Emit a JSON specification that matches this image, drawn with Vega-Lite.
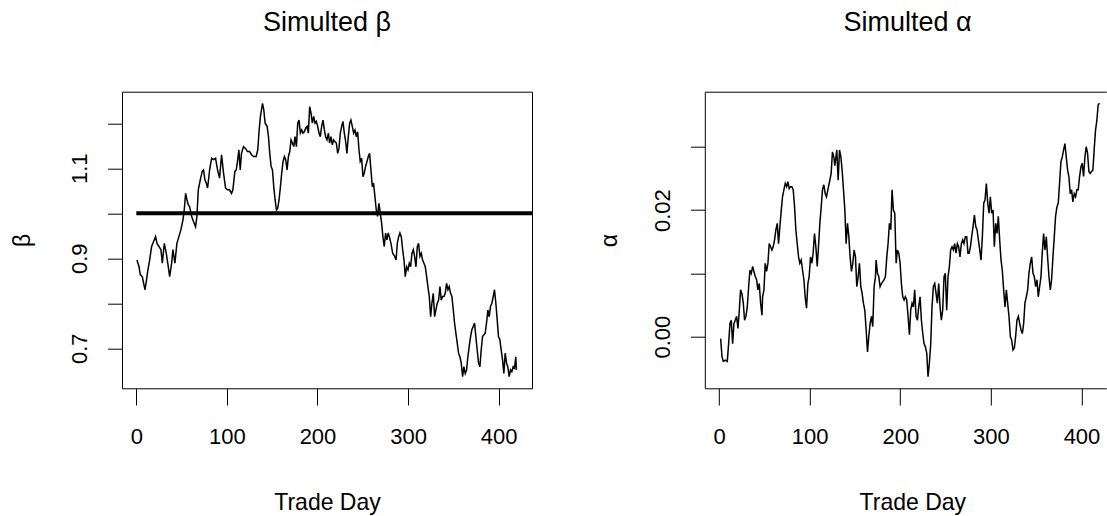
{
"$schema": "https://vega.github.io/schema/vega-lite/v6.json",
"padding": {"left": 10, "top": 8.7, "right": 0, "bottom": 0},
"background": "white",
"spacing": 172.8,
"bounds": "flush",
"config": {
 "font": "Liberation Sans",
 "axis": {"grid": false, "tickColor": "#000", "tickWidth": 1, "domainColor": "#000", "domainWidth": 1, "labelColor": "#000", "titleColor": "#000", "labelFontSize": 22, "titleFontSize": 23, "titleFontWeight": "normal", "labelFont": "Liberation Sans", "titleFont": "Liberation Sans", "labelOverlap": false, "labelFlush": false, "labelBound": false},
 "view": {"stroke": "#000", "strokeWidth": 1},
 "title": {"fontSize": 27, "fontWeight": "normal", "font": "Liberation Sans", "color": "#000", "baseline": "alphabetic", "offset": 54.5, "anchor": "middle"}
},
"datasets": {
"beta": [
{"day":0.7,"value":0.896},{"day":3,"value":0.881},{"day":4.4,"value":0.863},{"day":6.6,"value":0.859},{"day":8.1,"value":0.844},{"day":9.6,"value":0.830},{"day":11,"value":0.848},{"day":12.5,"value":0.870},{"day":14.7,"value":0.896},{"day":16.9,"value":0.926},{"day":19.1,"value":0.937},{"day":21.3,"value":0.948},{"day":22.8,"value":0.933},{"day":25,"value":0.926},{"day":27.2,"value":0.919},{"day":28.7,"value":0.889},{"day":30.9,"value":0.933},{"day":33.1,"value":0.911},{"day":35.3,"value":0.881},{"day":36.8,"value":0.859},{"day":39,"value":0.889},{"day":40.4,"value":0.919},{"day":42.6,"value":0.889},{"day":44.8,"value":0.933},{"day":47,"value":0.948},{"day":49.2,"value":0.963},{"day":51.5,"value":0.985},{"day":52.9,"value":1.007},{"day":54.4,"value":1.044},{"day":55.9,"value":1.030},{"day":57.3,"value":1.019},{"day":58.8,"value":1.015},{"day":61,"value":0.993},{"day":63.2,"value":0.981},{"day":65.4,"value":0.970},{"day":66.9,"value":0.993},{"day":68.4,"value":1.052},{"day":70.6,"value":1.074},{"day":72.8,"value":1.093},{"day":74.2,"value":1.096},{"day":75.7,"value":1.074},{"day":77.2,"value":1.067},{"day":78.7,"value":1.056},{"day":80.9,"value":1.096},{"day":83.1,"value":1.122},{"day":85.3,"value":1.119},{"day":87.5,"value":1.122},{"day":89.7,"value":1.096},{"day":91.9,"value":1.078},{"day":94.1,"value":1.130},{"day":96.3,"value":1.089},{"day":98.5,"value":1.056},{"day":100.7,"value":1.052},{"day":102.9,"value":1.052},{"day":105.1,"value":1.044},{"day":106.6,"value":1.052},{"day":108.8,"value":1.093},{"day":110.3,"value":1.096},{"day":111.7,"value":1.115},{"day":113.2,"value":1.141},{"day":114.7,"value":1.096},{"day":116.1,"value":1.133},{"day":118.3,"value":1.148},{"day":120.5,"value":1.144},{"day":122.7,"value":1.137},{"day":125,"value":1.137},{"day":127.2,"value":1.130},{"day":129.4,"value":1.126},
{"day":132.3,"value":1.126},{"day":134.1,"value":1.141},{"day":135.6,"value":1.185},{"day":137,"value":1.215},{"day":139.3,"value":1.244},{"day":140.7,"value":1.230},{"day":142.2,"value":1.200},{"day":144.4,"value":1.193},{"day":145.9,"value":1.170},{"day":147.3,"value":1.133},{"day":148.8,"value":1.104},{"day":150.3,"value":1.096},{"day":151.7,"value":1.059},{"day":153.2,"value":1.030},{"day":154.7,"value":1.007},{"day":156.1,"value":1.011},{"day":157.6,"value":1.030},{"day":159.1,"value":1.059},{"day":160.5,"value":1.089},{"day":162,"value":1.115},{"day":163.5,"value":1.126},{"day":164.9,"value":1.119},{"day":166.4,"value":1.096},{"day":167.9,"value":1.126},{"day":169.4,"value":1.137},{"day":170.8,"value":1.163},{"day":172.3,"value":1.156},{"day":173.8,"value":1.148},{"day":175.2,"value":1.170},{"day":176.7,"value":1.148},{"day":178.2,"value":1.200},{"day":179.6,"value":1.207},{"day":181.1,"value":1.178},{"day":182.6,"value":1.185},{"day":184,"value":1.178},{"day":185.5,"value":1.181},{"day":187,"value":1.189},{"day":188.5,"value":1.193},{"day":189.9,"value":1.178},{"day":191.4,"value":1.237},{"day":192.9,"value":1.222},{"day":194.3,"value":1.200},{"day":195.8,"value":1.215},{"day":197.3,"value":1.200},{"day":198.7,"value":1.204},{"day":200.2,"value":1.193},{"day":201.7,"value":1.178},{"day":203.1,"value":1.170},{"day":204.6,"value":1.193},{"day":206.1,"value":1.207},{"day":207.6,"value":1.185},{"day":209,"value":1.170},{"day":210.5,"value":1.163},{"day":212,"value":1.178},{"day":213.4,"value":1.156},{"day":214.9,"value":1.170},{"day":216.4,"value":1.152},{"day":217.8,"value":1.163},{"day":219.3,"value":1.159},{"day":220.8,"value":1.156},{"day":222.3,"value":1.133},{"day":223.7,"value":1.144},{"day":225.2,"value":1.178},{"day":226.7,"value":1.193},{"day":228.1,"value":1.204},{"day":229.6,"value":1.178},{"day":231.1,"value":1.159},{"day":232.5,"value":1.133},{"day":234,"value":1.170},{"day":235.5,"value":1.200},{"day":236.9,"value":1.207},{"day":238.4,"value":1.193},{"day":239.9,"value":1.178},{"day":241.4,"value":1.185},{"day":242.8,"value":1.170},{"day":244.3,"value":1.181},{"day":245.8,"value":1.141},{"day":247.2,"value":1.115},{"day":248.7,"value":1.122},{"day":250.2,"value":1.081},{"day":251.6,"value":1.089},{"day":253.1,"value":1.104},{"day":254.6,"value":1.115},{"day":256.1,"value":1.126},{"day":257.5,"value":1.133},{"day":259,"value":1.096},{"day":260.5,"value":1.059},{"day":261.9,"value":1.067},{"day":263.4,"value":1.037},{"day":264.9,"value":1.007},{"day":266.3,"value":0.993},{"day":267.8,"value":1.022},{"day":269.3,"value":1.000},{"day":270.8,"value":0.978},{"day":272.2,"value":0.948},{"day":273.7,"value":0.926},{"day":275.2,"value":0.956},{"day":276.6,"value":0.941},{"day":278.1,"value":0.956},
{"day":279.3,"value":0.948},{"day":281.1,"value":0.933},{"day":283,"value":0.911},{"day":285.2,"value":0.904},{"day":286.7,"value":0.896},{"day":288.1,"value":0.933},{"day":289.6,"value":0.948},{"day":291,"value":0.956},{"day":292.5,"value":0.948},{"day":294,"value":0.919},{"day":295.5,"value":0.896},{"day":296.9,"value":0.859},{"day":298.4,"value":0.881},{"day":299.9,"value":0.874},{"day":301.3,"value":0.889},{"day":302.8,"value":0.881},{"day":304.3,"value":0.911},{"day":305.8,"value":0.919},{"day":307.2,"value":0.904},{"day":308.7,"value":0.881},{"day":310.2,"value":0.926},{"day":311.6,"value":0.933},{"day":313.1,"value":0.904},{"day":314.6,"value":0.911},{"day":316,"value":0.896},{"day":317.5,"value":0.889},{"day":319,"value":0.881},{"day":320.5,"value":0.859},{"day":321.9,"value":0.837},{"day":323.4,"value":0.815},{"day":324.9,"value":0.770},{"day":326.3,"value":0.800},{"day":327.8,"value":0.822},{"day":329.3,"value":0.770},{"day":330.7,"value":0.785},{"day":332.2,"value":0.800},{"day":333.7,"value":0.807},{"day":335.2,"value":0.837},{"day":336.6,"value":0.807},{"day":338.1,"value":0.815},{"day":339.6,"value":0.815},{"day":341,"value":0.822},{"day":342.5,"value":0.844},{"day":344,"value":0.830},{"day":345.4,"value":0.837},{"day":346.9,"value":0.822},{"day":348.4,"value":0.815},{"day":349.9,"value":0.785},{"day":351.3,"value":0.756},{"day":352.8,"value":0.733},{"day":354.3,"value":0.711},{"day":355.7,"value":0.689},{"day":357.2,"value":0.681},{"day":358.7,"value":0.667},{"day":360.2,"value":0.637},{"day":361.6,"value":0.659},{"day":363.1,"value":0.644},{"day":364.6,"value":0.652},{"day":366,"value":0.681},{"day":367.5,"value":0.704},{"day":369,"value":0.726},{"day":370.4,"value":0.741},{"day":371.9,"value":0.748},{"day":373.4,"value":0.756},{"day":374.8,"value":0.726},{"day":376.3,"value":0.696},{"day":377.8,"value":0.667},{"day":379.3,"value":0.659},{"day":380.7,"value":0.696},{"day":382.2,"value":0.726},{"day":383.7,"value":0.730},{"day":385.1,"value":0.733},{"day":386.6,"value":0.756},{"day":388.1,"value":0.785},{"day":389.6,"value":0.770},{"day":391,"value":0.793},{"day":392.5,"value":0.800},{"day":394,"value":0.815},{"day":395.4,"value":0.830},{"day":396.9,"value":0.800},{"day":398.4,"value":0.763},{"day":399.8,"value":0.726},{"day":401.3,"value":0.719},{"day":402.8,"value":0.696},{"day":404.3,"value":0.674},{"day":405.7,"value":0.644},{"day":407.2,"value":0.689},{"day":408.7,"value":0.667},{"day":410.1,"value":0.659},{"day":411.6,"value":0.637},{"day":413.1,"value":0.652},{"day":414.5,"value":0.648},{"day":416,"value":0.659},{"day":417.5,"value":0.656},{"day":418.9,"value":0.681},{"day":419.6,"value":0.652}
],
"alpha": [
{"day":1.7,"value":-0.0003},{"day":3.2,"value":-0.0032},{"day":4.6,"value":-0.0039},{"day":6.8,"value":-0.0037},{"day":9,"value":-0.0039},{"day":10.5,"value":-0.0011},{"day":12,"value":0.0021},{"day":13.4,"value":0.0026},{"day":14.9,"value":-0.0011},{"day":16.4,"value":0.0021},{"day":17.8,"value":0.0026},{"day":19.3,"value":0.0032},{"day":20.8,"value":0.0013},{"day":22.3,"value":0.0042},{"day":23.7,"value":0.0074},{"day":25.2,"value":0.0068},{"day":26.7,"value":0.0053},{"day":28.1,"value":0.0026},{"day":29.6,"value":0.0032},{"day":31.1,"value":0.0047},{"day":32.6,"value":0.0079},{"day":34,"value":0.0105},{"day":35.5,"value":0.0100},{"day":37,"value":0.0111},{"day":38.4,"value":0.0103},{"day":39.9,"value":0.0095},{"day":41.4,"value":0.0090},{"day":42.8,"value":0.0074},{"day":44.3,"value":0.0084},{"day":45.8,"value":0.0053},{"day":47.3,"value":0.0034},{"day":48,"value":0.0063},{"day":49.5,"value":0.0074},{"day":50.9,"value":0.0116},{"day":52.4,"value":0.0103},{"day":53.9,"value":0.0116},{"day":55.3,"value":0.0147},{"day":56.8,"value":0.0142},{"day":58.3,"value":0.0137},{"day":59.7,"value":0.0142},{"day":61.2,"value":0.0153},{"day":62.7,"value":0.0169},{"day":64.2,"value":0.0179},{"day":65.6,"value":0.0147},{"day":67.1,"value":0.0174},{"day":68.6,"value":0.0200},{"day":70,"value":0.0221},{"day":71.5,"value":0.0232},{"day":73,"value":0.0242},{"day":74.5,"value":0.0237},{"day":75.9,"value":0.0245},{"day":77.4,"value":0.0234},{"day":78.9,"value":0.0237},{"day":80.3,"value":0.0237},{"day":81.8,"value":0.0232},{"day":83.3,"value":0.0205},{"day":84.7,"value":0.0169},{"day":86.2,"value":0.0147},{"day":87.7,"value":0.0126},{"day":89.1,"value":0.0116},{"day":90.6,"value":0.0121},{"day":92.1,"value":0.0105},{"day":93.6,"value":0.0090},{"day":95,"value":0.0063},{"day":96.5,"value":0.0045},{"day":98,"value":0.0084},{"day":99.4,"value":0.0095},{"day":100.9,"value":0.0126},{"day":102.4,"value":0.0116},{"day":103.8,"value":0.0132},{"day":105.3,"value":0.0163},{"day":106.8,"value":0.0142},{"day":108.3,"value":0.0111},{"day":109.7,"value":0.0142},{"day":111.2,"value":0.0179},{"day":112.7,"value":0.0205},{"day":114.1,"value":0.0232},{"day":115.6,"value":0.0240},{"day":117.1,"value":0.0226},{"day":118.5,"value":0.0221},{"day":120,"value":0.0232},{"day":121.5,"value":0.0242},{"day":123.7,"value":0.0258},{"day":125.1,"value":0.0292},{"day":126.6,"value":0.0284},
{"day":127.8,"value":0.0270},{"day":129.9,"value":0.0295},{"day":131.4,"value":0.0247},{"day":132.9,"value":0.0295},{"day":134.4,"value":0.0284},{"day":135.8,"value":0.0263},{"day":137.3,"value":0.0232},{"day":138.8,"value":0.0200},{"day":140.2,"value":0.0147},{"day":141.7,"value":0.0179},{"day":143.2,"value":0.0158},{"day":144.6,"value":0.0126},{"day":146.1,"value":0.0103},{"day":147.6,"value":0.0116},{"day":149,"value":0.0137},{"day":150.5,"value":0.0126},{"day":152,"value":0.0079},{"day":153.5,"value":0.0095},{"day":154.9,"value":0.0116},{"day":156.4,"value":0.0079},{"day":157.9,"value":0.0068},{"day":159.3,"value":0.0053},{"day":160.8,"value":0.0042},{"day":162.3,"value":0.0011},{"day":163.8,"value":-0.0024},{"day":165.2,"value":0.0000},{"day":166.7,"value":0.0021},{"day":168.2,"value":0.0032},{"day":169.6,"value":0.0016},{"day":171.1,"value":0.0079},{"day":172.6,"value":0.0095},{"day":173.3,"value":0.0121},{"day":174.8,"value":0.0100},{"day":176.2,"value":0.0095},{"day":177.7,"value":0.0079},{"day":179.2,"value":0.0084},{"day":180.7,"value":0.0087},{"day":182.1,"value":0.0090},{"day":183.6,"value":0.0095},{"day":185.1,"value":0.0126},{"day":186.5,"value":0.0147},{"day":188,"value":0.0179},{"day":189.5,"value":0.0169},{"day":190.9,"value":0.0232},{"day":192.4,"value":0.0200},{"day":193.9,"value":0.0195},{"day":195.4,"value":0.0116},{"day":196.8,"value":0.0137},{"day":198.3,"value":0.0132},{"day":199.8,"value":0.0116},{"day":201.2,"value":0.0084},{"day":202.7,"value":0.0063},{"day":204.2,"value":0.0058},{"day":205.6,"value":0.0063},{"day":207.1,"value":0.0058},{"day":208.6,"value":0.0032},{"day":210.1,"value":0.0003},{"day":211.5,"value":0.0042},{"day":213,"value":0.0053},{"day":214.5,"value":0.0047},{"day":215.9,"value":0.0074},{"day":217.4,"value":0.0032},{"day":218.9,"value":0.0026},{"day":220.3,"value":0.0047},{"day":221.8,"value":0.0063},{"day":223.3,"value":0.0026},{"day":224.8,"value":0.0005},{"day":226.2,"value":-0.0011},{"day":227.7,"value":-0.0016},{"day":229.2,"value":-0.0026},{"day":230.6,"value":-0.0063},{"day":232.1,"value":-0.0042},{"day":233.6,"value":-0.0011},{"day":235,"value":0.0047},{"day":236.5,"value":0.0079},{"day":238,"value":0.0084},{"day":239.5,"value":0.0068},{"day":240.9,"value":0.0053},{"day":242.4,"value":0.0084},{"day":243.9,"value":0.0047},{"day":245.3,"value":0.0026},{"day":246.8,"value":0.0042},{"day":248.3,"value":0.0095},{"day":249.7,"value":0.0100},{"day":251.2,"value":0.0042},{"day":252.7,"value":0.0095},{"day":254.2,"value":0.0111},{"day":255.6,"value":0.0137},{"day":257.1,"value":0.0142},{"day":258.6,"value":0.0137},{"day":260,"value":0.0147},{"day":261.5,"value":0.0132},{"day":263,"value":0.0147},{"day":264.4,"value":0.0142},{"day":265.9,"value":0.0126},{"day":267.4,"value":0.0147},{"day":268.9,"value":0.0153},{"day":270.3,"value":0.0147},{"day":271.8,"value":0.0158},{"day":273.3,"value":0.0158},{"day":274.7,"value":0.0132},
{"day":275.9,"value":0.0132},{"day":277.4,"value":0.0142},{"day":278.8,"value":0.0158},{"day":280.3,"value":0.0174},{"day":281.8,"value":0.0192},{"day":283.3,"value":0.0174},{"day":284.7,"value":0.0169},{"day":286.2,"value":0.0153},{"day":287.7,"value":0.0137},{"day":289.1,"value":0.0121},{"day":290.6,"value":0.0158},{"day":292.1,"value":0.0211},{"day":293.5,"value":0.0216},{"day":295,"value":0.0242},{"day":296.5,"value":0.0211},{"day":298,"value":0.0195},{"day":299.4,"value":0.0221},{"day":300.9,"value":0.0195},{"day":302.4,"value":0.0200},{"day":303.8,"value":0.0142},{"day":305.3,"value":0.0179},{"day":306.8,"value":0.0163},{"day":308.2,"value":0.0190},{"day":309.7,"value":0.0153},{"day":311.2,"value":0.0121},{"day":312.6,"value":0.0105},{"day":314.1,"value":0.0074},{"day":315.6,"value":0.0047},{"day":317.1,"value":0.0074},{"day":318.5,"value":0.0053},{"day":320,"value":0.0032},{"day":321.5,"value":0.0000},{"day":322.9,"value":-0.0005},{"day":324.4,"value":-0.0021},{"day":325.9,"value":-0.0018},{"day":327.3,"value":0.0000},{"day":328.8,"value":0.0026},{"day":330.3,"value":0.0032},{"day":331.8,"value":0.0021},{"day":333.2,"value":0.0011},{"day":334.7,"value":0.0005},{"day":336.2,"value":0.0021},{"day":337.6,"value":0.0053},{"day":339.1,"value":0.0063},{"day":340.6,"value":0.0074},{"day":342,"value":0.0100},{"day":343.5,"value":0.0116},{"day":345,"value":0.0126},{"day":346.5,"value":0.0100},{"day":347.9,"value":0.0095},{"day":349.4,"value":0.0079},{"day":350.9,"value":0.0090},{"day":352.3,"value":0.0063},{"day":353.8,"value":0.0079},{"day":355.3,"value":0.0095},{"day":356.7,"value":0.0132},{"day":358.2,"value":0.0163},{"day":359.7,"value":0.0137},{"day":361.2,"value":0.0158},{"day":362.6,"value":0.0126},{"day":364.1,"value":0.0095},{"day":365.6,"value":0.0074},{"day":367,"value":0.0090},{"day":368.5,"value":0.0126},{"day":370,"value":0.0158},{"day":371.4,"value":0.0190},{"day":372.9,"value":0.0205},{"day":374.4,"value":0.0211},{"day":375.8,"value":0.0242},{"day":377.3,"value":0.0276},{"day":378.8,"value":0.0284},{"day":380.3,"value":0.0295},{"day":381.7,"value":0.0305},{"day":383.2,"value":0.0284},{"day":384.7,"value":0.0263},{"day":386.1,"value":0.0253},{"day":387.6,"value":0.0226},{"day":389.1,"value":0.0232},{"day":390.5,"value":0.0213},{"day":392,"value":0.0226},{"day":393.5,"value":0.0221},{"day":394.9,"value":0.0232},{"day":396.4,"value":0.0232},{"day":397.9,"value":0.0253},{"day":399.4,"value":0.0268},{"day":400.8,"value":0.0274},{"day":402.3,"value":0.0253},{"day":403.8,"value":0.0284},{"day":405.2,"value":0.0300},{"day":406.7,"value":0.0290},{"day":408.2,"value":0.0261},{"day":409.6,"value":0.0258},{"day":411.1,"value":0.0261},{"day":412.6,"value":0.0263},{"day":414,"value":0.0295},{"day":415.5,"value":0.0326},{"day":417,"value":0.0342},{"day":418.4,"value":0.0366},{"day":419.9,"value":0.0369}
]
},
"hconcat": [
{
 "width": 410, "height": 296.6,
 "title": {"text": "Simulted β"},
 "layer": [
  {
   "data": {"name": "beta"},
   "mark": {"type": "line", "color": "#000", "strokeWidth": 1.5, "clip": true},
   "encoding": {
    "x": {"field": "day", "type": "quantitative", "scale": {"domain": [-15.8, 436.8], "nice": false, "zero": false},
      "axis": {"title": "Trade Day", "values": [0, 100, 200, 300, 400], "domain": false, "tickSize": 16.7, "labelPadding": 38.4, "labelBaseline": "alphabetic", "labelAlign": "center", "titleY": 121.7, "titleBaseline": "alphabetic"}},
    "y": {"field": "value", "type": "quantitative", "scale": {"domain": [0.611, 1.27], "nice": false, "zero": false},
      "axis": {"title": "β", "values": [0.7, 0.8, 0.9, 1.0, 1.1, 1.2], "format": ".1f", "labelExpr": "indexof(['0.7','0.9','1.1'], datum.label) >= 0 ? datum.label : ''", "domain": false, "tickSize": 14.4, "labelAngle": -90, "labelAlign": "center", "labelBaseline": "alphabetic", "labelPadding": 20.7, "titleAngle": -90, "titleAlign": "center", "titleBaseline": "alphabetic", "titleX": -92.7, "titleY": 148.3}}
   }
  },
  {
   "data": {"values": [{"start": 0, "end": 440, "level": 1}]},
   "mark": {"type": "rule", "color": "#000", "strokeWidth": 4, "strokeCap": "butt", "clip": true},
   "encoding": {
    "x": {"field": "start", "type": "quantitative"},
    "x2": {"field": "end"},
    "y": {"field": "level", "type": "quantitative"}
   }
  }
 ]
},
{
 "width": 401.5, "height": 296.6,
 "view": {"stroke": null},
 "title": {"text": "Simulted α", "dx": 2},
 "resolve": {"axis": {"x": "independent"}},
 "layer": [
  {
   "data": {"name": "alpha"},
   "mark": {"type": "line", "color": "#000", "strokeWidth": 1.5, "clip": true},
   "encoding": {
    "x": {"field": "day", "type": "quantitative", "scale": {"domain": [-15.8, 427.4], "nice": false, "zero": false},
      "axis": {"orient": "bottom", "title": "Trade Day", "values": [0, 100, 200, 300, 400], "domain": true, "tickSize": 16.7, "labelPadding": 38.4, "labelBaseline": "alphabetic", "labelAlign": "center", "titleY": 121.7, "titleX": 207.5, "titleBaseline": "alphabetic"}},
    "y": {"field": "value", "type": "quantitative", "scale": {"domain": [-0.00815, 0.0387], "nice": false, "zero": false},
      "axis": {"title": "α", "values": [0, 0.01, 0.02, 0.03], "format": ".2f", "labelExpr": "datum.label == '0.00' || datum.label == '0.02' ? datum.label : ''", "domain": true, "tickSize": 14.4, "labelAngle": -90, "labelAlign": "center", "labelBaseline": "alphabetic", "labelPadding": 20.7, "titleAngle": -90, "titleAlign": "center", "titleBaseline": "alphabetic", "titleX": -88, "titleY": 148.3}}
   }
  },
  {
   "data": {"name": "alpha"},
   "mark": {"type": "line", "color": "#000", "strokeOpacity": 0, "clip": true},
   "encoding": {
    "x": {"field": "day", "type": "quantitative", "axis": {"orient": "top", "title": null, "labels": false, "ticks": false, "domain": true}},
    "y": {"field": "value", "type": "quantitative"}
   }
  }
 ]
}
]
}
